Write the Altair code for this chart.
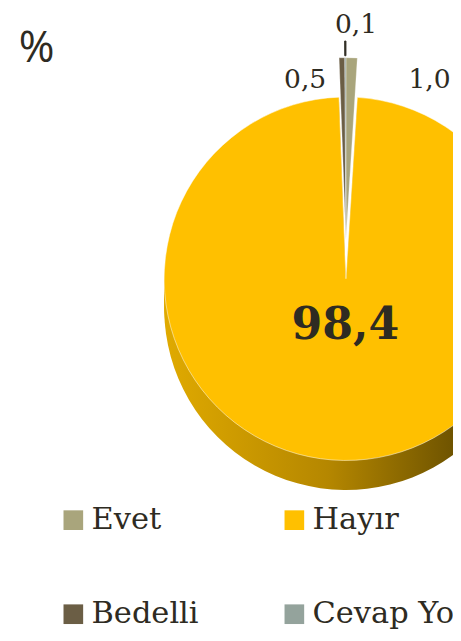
import altair as alt
import pandas as pd

# ---- data ----
categories = ["Evet", "Hayır", "Bedelli", "Cevap Yok"]
values = [1.0, 98.4, 0.5, 0.1]
value_labels = ["1,0", "98,4", "0,5", "0,1"]
colors = ["#A9A57C", "#FFC000", "#6B5E45", "#94A39C"]

df = pd.DataFrame({
    "cat": categories,
    "value": values,
    "label": value_labels,
    "order": list(range(len(categories))),
})

# ---- styling / layout ----
CX, CY, R = 344, 270, 185
EXPLODE = 40
SIDE_OFFSETS = [5, 10, 15, 20, 25, 30]
INK = "#2E2B22"
SERIF = "DejaVu Serif"
small_label_style = {  # category: (radius, dx)
    "Evet": (162, 80),
    "Bedelli": (162, -38),
    "Cevap Yok": (218, 11),
}

base = alt.Chart(df).transform_window(
    cum="sum(value)", sort=[alt.SortField("order")], frame=[None, 0]
).transform_calculate(
    start="datum.cum - datum.value",
    mid="datum.cum - datum.value / 2",
)

tscale = alt.Scale(domain=[0, 100])
theta = alt.Theta("start:Q", scale=tscale)
theta2 = alt.Theta2("cum:Q")
theta_mid = alt.Theta("mid:Q", scale=tscale)

color = alt.Color(
    "cat:N",
    scale=alt.Scale(domain=categories, range=colors),
    legend=alt.Legend(
        orient="none", legendX=51, legendY=500, title=None, columns=2,
        direction="horizontal",
        symbolType="square", symbolSize=400, symbolStrokeWidth=0,
        labelFont=SERIF, labelFontSize=31, labelColor=INK, labelOffset=3,
        labelLimit=400, columnPadding=81, rowPadding=64, padding=0,
    ),
)

side_fill = alt.Gradient(
    gradient="linear", x1=0, x2=1, y1=0, y2=0,
    stops=[
        alt.GradientStop(color="#E0AA00", offset=0),
        alt.GradientStop(color="#B58700", offset=0.45),
        alt.GradientStop(color="#6E5300", offset=0.8),
        alt.GradientStop(color="#5A4400", offset=1),
    ],
)

layers = []
for off in SIDE_OFFSETS:
    layers.append(
        base.transform_filter(alt.datum.cat == "Hayır")
        .mark_arc(radius=R, fill=side_fill)
        .encode(theta=theta, theta2=theta2, x=alt.value(CX), y=alt.value(CY + off))
    )

# top face: main slice
layers.append(
    base.transform_filter(alt.datum.cat == "Hayır")
    .mark_arc(radius=R, stroke="white", strokeWidth=0.5)
    .encode(theta=theta, theta2=theta2, color=color, x=alt.value(CX), y=alt.value(CY))
)
# exploded small slices
layers.append(
    base.transform_filter(alt.datum.cat != "Hayır")
    .mark_arc(radius=R, stroke="white", strokeWidth=0.3)
    .encode(theta=theta, theta2=theta2, color=color, x=alt.value(CX), y=alt.value(CY - EXPLODE))
)
# leader line for the thinnest slice
layers.append(
    base.transform_filter(alt.datum.cat == "Cevap Yok")
    .mark_arc(radius=202, radius2=R + 2, color=INK, stroke=INK, strokeWidth=1)
    .encode(theta=theta, theta2=theta2, x=alt.value(CX), y=alt.value(CY - EXPLODE))
)
# small labels
for cat, (rad, dx) in small_label_style.items():
    layers.append(
        base.transform_filter(alt.datum.cat == cat)
        .mark_text(radius=rad, dx=dx, font=SERIF, fontSize=27, color=INK,
                   align="center", baseline="middle")
        .encode(theta=theta_mid, text="label:N", x=alt.value(CX), y=alt.value(CY - EXPLODE))
    )
# big label
layers.append(
    base.transform_filter(alt.datum.cat == "Hayır")
    .mark_text(radius=47, font=SERIF, fontSize=45, fontWeight="bold", color=INK,
               align="center", baseline="middle")
    .encode(theta=theta_mid, text="label:N", x=alt.value(CX), y=alt.value(CY))
)
# "%" unit marker
layers.append(
    alt.Chart(pd.DataFrame({"t": ["%"]}))
    .mark_text(font="Open Sans", fontSize=44, color=INK, align="center", baseline="middle")
    .encode(text="t:N", x=alt.value(29), y=alt.value(36))
)

chart = alt.layer(*layers).properties(
    width=453, height=624, padding=0,
    autosize=alt.AutoSizeParams(type="none"),
).configure_view(stroke=None)

chart.save("out.html", embed_options={"renderer": "svg", "actions": False})
